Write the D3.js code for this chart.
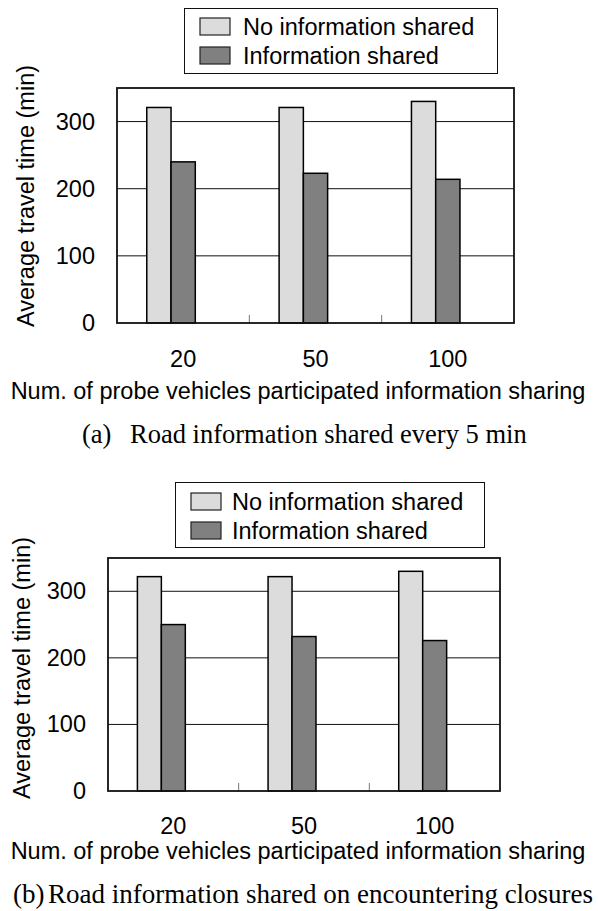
<!DOCTYPE html>
<html>
<head>
<meta charset="utf-8">
<script src="https://cdn.jsdelivr.net/npm/d3@7"></script>
<style>
  html, body { margin: 0; padding: 0; background: #fff; }
  svg { display: block; }
</style>
</head>
<body>
<script>
// ---- data ----
const categories = ["20", "50", "100"];
const seriesNames = ["No information shared", "Information shared"];
const noInfoA = [321, 321, 330];
const infoA = [240, 223, 214];
const noInfoB = [322, 322, 330];
const infoB = [250, 232, 226];
const yTicks = [0, 100, 200, 300];
const yMax = 350;
const yTitle = "Average travel time (min)";
const xTitle = "Num. of probe vehicles participated information sharing";
const captionA = ["(a)", "Road information shared every 5 min"];
const captionB = ["(b)", "Road information shared on encountering closures"];

// ---- styles ----
const colors = ["#dcdcdc", "#808080"];
const sans = "'Liberation Sans', Arial, sans-serif";
const serif = "'Liberation Serif', 'Times New Roman', serif";
const fs = 23.5;

const svg = d3.select("body").append("svg")
  .attr("width", 598).attr("height", 911)
  .style("background", "#fff");

function drawChart(cfg, s1, s2, caption) {
  const g = svg.append("g");
  const x0 = d3.scaleBand().domain(categories).range([cfg.left, cfg.right]);
  const bw = x0.bandwidth();
  // three slots per group (third slot is empty, as in the original)
  const x1 = d3.scaleBand().domain([0, 1, 2]).range([bw * 0.225, bw * 0.775]);
  const y = d3.scaleLinear().domain([0, yMax]).range([cfg.bottom, cfg.top]);

  // gridlines
  g.selectAll("line.grid").data(yTicks.filter(t => t > 0)).join("line")
    .attr("x1", cfg.left).attr("x2", cfg.right)
    .attr("y1", d => y(d)).attr("y2", d => y(d))
    .attr("stroke", "#111").attr("stroke-width", 1);

  // bars
  const rows = categories.map((c, i) => ({ c, v: [s1[i], s2[i]] }));
  const grp = g.selectAll("g.grp").data(rows).join("g")
    .attr("transform", d => `translate(${x0(d.c)},0)`);
  grp.selectAll("rect").data(d => d.v.map((v, k) => ({ v, k }))).join("rect")
    .attr("x", d => x1(d.k)).attr("width", x1.bandwidth())
    .attr("y", d => y(d.v)).attr("height", d => y(0) - y(d.v))
    .attr("fill", d => colors[d.k])
    .attr("stroke", "#000").attr("stroke-width", 1.5);

  // category separator ticks
  g.selectAll("line.sep").data(categories.slice(0, -1)).join("line")
    .attr("x1", d => x0(d) + bw).attr("x2", d => x0(d) + bw)
    .attr("y1", cfg.bottom).attr("y2", cfg.bottom - 8)
    .attr("stroke", "#777").attr("stroke-width", 1);

  // frame
  g.append("rect")
    .attr("x", cfg.left).attr("y", cfg.top)
    .attr("width", cfg.right - cfg.left).attr("height", cfg.bottom - cfg.top)
    .attr("fill", "none").attr("stroke", "#111").attr("stroke-width", 1.8);

  // y axis
  const ya = g.append("g").attr("transform", `translate(${cfg.left},0)`)
    .call(d3.axisLeft(y).tickValues(yTicks).tickSize(0).tickPadding(22));
  ya.select(".domain").remove();
  ya.selectAll("text").style("font-family", sans).style("font-size", fs + "px").attr("fill", "#000");

  // x axis
  const xa = g.append("g").attr("transform", `translate(0,${cfg.bottom})`)
    .call(d3.axisBottom(x0).tickSize(0));
  xa.select(".domain").remove();
  xa.selectAll("text").attr("y", cfg.tickBase - cfg.bottom).attr("dy", 0)
    .style("font-family", sans).style("font-size", fs + "px").attr("fill", "#000");

  // axis titles
  g.append("text").attr("x", 298).attr("y", cfg.xTitleBase)
    .attr("text-anchor", "middle")
    .style("font-family", sans).style("font-size", fs + "px").text(xTitle);
  g.append("text")
    .attr("transform", `translate(${cfg.yTitleX},${cfg.yTitleY}) rotate(-90)`)
    .attr("text-anchor", "middle")
    .style("font-family", sans).style("font-size", fs + "px").text(yTitle);

  // legend
  const L = cfg.legend;
  g.append("rect").attr("x", L.x).attr("y", L.y).attr("width", L.w).attr("height", L.h)
    .attr("fill", "#fff").attr("stroke", "#111").attr("stroke-width", 1);
  const li = g.selectAll("g.leg").data(seriesNames).join("g")
    .attr("transform", (d, i) => `translate(0,${L.rowY[i]})`);
  li.append("rect").attr("x", L.sx).attr("y", -17).attr("width", 30).attr("height", 17)
    .attr("fill", (d, i) => colors[i]).attr("stroke", "#222").attr("stroke-width", 1.2);
  li.append("text").attr("x", L.tx).attr("y", 0)
    .style("font-family", sans).style("font-size", fs + "px").text(d => d);

  // caption
  g.append("text").attr("x", cfg.capX[0]).attr("y", cfg.capBase)
    .style("font-family", serif).style("font-size", cfg.capFs + "px").text(caption[0]);
  g.append("text").attr("x", cfg.capX[1]).attr("y", cfg.capBase)
    .style("font-family", serif).style("font-size", cfg.capFs + "px").text(caption[1]);
}

drawChart({
  left: 117, right: 514, top: 88, bottom: 323,
  tickBase: 367, xTitleBase: 399, yTitleX: 34, yTitleY: 196,
  legend: { x: 184.5, y: 8.5, w: 313, h: 65, sx: 200, tx: 243, rowY: [35, 64] },
  capX: [82, 130], capBase: 443, capFs: 26.5
}, noInfoA, infoA, captionA);

drawChart({
  left: 108, right: 500, top: 558, bottom: 791,
  tickBase: 834, xTitleBase: 859, yTitleX: 30, yTitleY: 668,
  legend: { x: 175.5, y: 482.5, w: 309, h: 65, sx: 191, tx: 232, rowY: [510, 539] },
  capX: [13, 48], capBase: 903, capFs: 27
}, noInfoB, infoB, captionB);
</script>
</body>
</html>
